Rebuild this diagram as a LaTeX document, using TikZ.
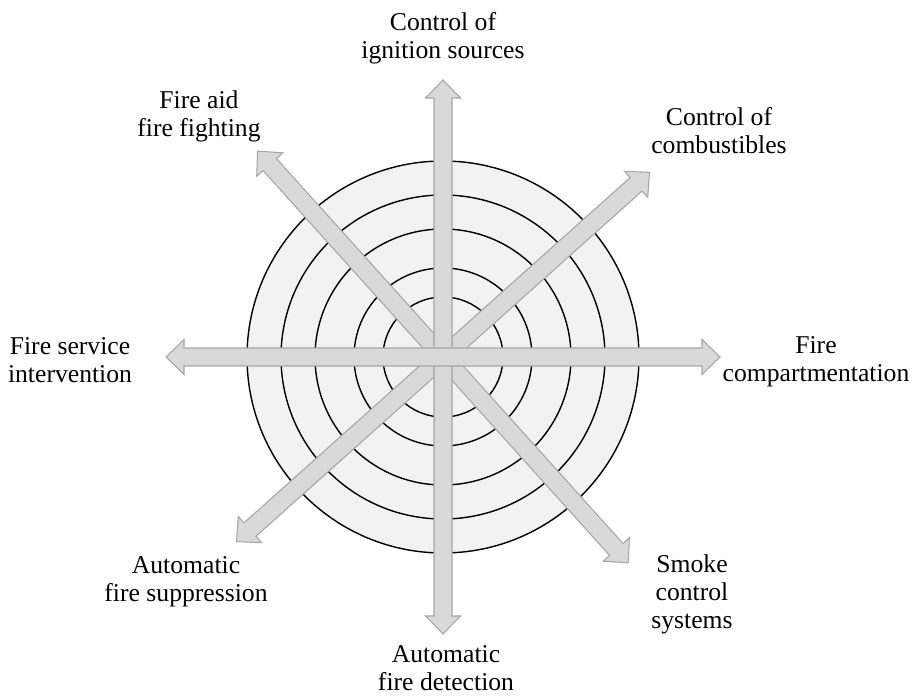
\documentclass[tikz,border=0pt]{standalone}
\usepackage{fontspec}
\setmainfont{Liberation Serif}
\usetikzlibrary{positioning}
\definecolor{ringfill}{HTML}{F2F2F2}
\definecolor{barfill}{HTML}{D9D9D9}
\definecolor{bardraw}{HTML}{A6A6A6}

\begin{document}
\begin{tikzpicture}[
    x=0.02cm, y=0.02cm,
    ring/.style={draw=black, line width=0.8pt, fill=ringfill},
    bar/.style={draw=bardraw, line width=0.6pt, fill=barfill},
    lbl/.style={font=\fontsize{14.6}{16}\selectfont, align=center, inner sep=0pt},
]
\useasboundingbox (0,0) rectangle (912,699);
\coordinate (hub) at (443,342);

% rings, outer first
\foreach \r in {196,162,128,89,60}
  \draw[ring] (hub) circle (\r);

% block arrows: diagonals, then vertical, then horizontal on top
\foreach \a in {-48,41.8,90,0}
  \draw[bar, shift={(hub)}, rotate=\a]
    (-277,0) -- (-259,17.5) -- (-259,9) -- (259,9) -- (259,17.5) -- (277,0)
    -- (259,-17.5) -- (259,-9) -- (-259,-9) -- (-259,-17.5) -- cycle;

% labels
\node[lbl] (ignition) at (443,661) {Control of\\ignition sources};
\node[lbl] (combust) at (719,568) {Control of\\combustibles};
\node[lbl] (compart) at (816,337) {Fire\\compartmentation};
\node[lbl] (smoke) at (692,105) {Smoke\\control\\systems};
\node[lbl] (detect) at (446,31) {Automatic\\fire detection};
\node[lbl] (suppress) at (186,117) {Automatic\\fire suppression};
\node[lbl] (service) at (70,339) {Fire service\\intervention};
\node[lbl] (firstaid) at (199,583) {Fire aid\\fire fighting};
\end{tikzpicture}
\end{document}
